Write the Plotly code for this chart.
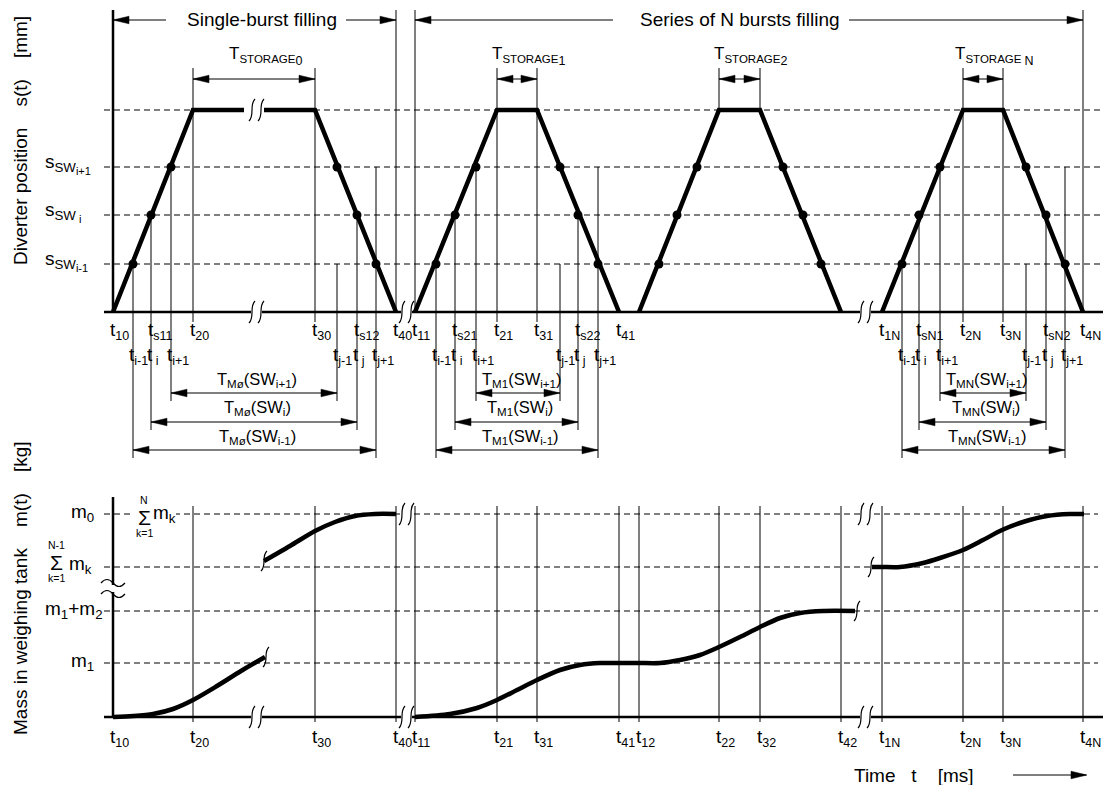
import plotly.graph_objects as go

W, H = 1103, 785
FONT = "Liberation Sans, Arial, sans-serif"

# ---------------- data (schematic time instants & levels) ----------------
burst_ids = ["0", "1", "2", "N"]
t_start = [113, 415, 639, 882]        # t1x
t_rise_end = [193, 497, 719, 963]     # t2x
t_fall_start = [315, 537, 760, 1003]  # t3x
t_end = [396, 619, 841, 1083]         # t4x
t_up_sw = [[133, 151, 171], [436, 455, 476], [659, 677, 697], [902, 919, 940]]
t_dn_sw = [[337, 357, 376], [560, 578, 598], [783, 803, 821], [1026, 1046, 1065]]
s_sw_levels = [264, 215, 167]   # s_SW(i-1), s_SW(i), s_SW(i+1)
s_zero = 312
s_top = 110
SS = "<span style='font-size:11px'>"
s_level_labels = [f"s<sub>SW<sub>{SS}i-1</span></sub></sub>",
                  f"s<sub>SW<sub>{SS} i</span></sub></sub>",
                  f"s<sub>SW<sub>{SS}i+1</span></sub></sub>"]

m_zero = 717
m_levels = [663, 611, 567, 514]   # m1, m1+m2, sum_{k=1}^{N-1} m_k, m0

# mass curves
mass0a_t = [113, 133, 153, 173, 193, 217, 241, 265]
mass0a_m = [717, 716, 714, 709, 700, 686, 671, 657]
mass0b_t = [264, 290, 315, 335, 355, 375, 396]
mass0b_m = [561, 546, 531, 522, 516, 514, 514]
mass12_t = [415, 450, 477, 497, 517, 537, 560, 580, 600, 619, 639, 660, 680, 700, 719, 740, 760, 780, 800, 823, 855]
mass12_m = [717, 714, 708, 700, 690, 680, 670, 665, 663, 663, 663, 663, 660, 655, 647, 637, 627, 618, 613, 611, 611]
massN_t = [872, 882, 900, 923, 940, 963, 983, 1002, 1023, 1047, 1070, 1084]
massN_m = [567, 567, 567, 563, 558, 550, 540, 530, 522, 516, 514, 514]

lower_t_pos = [113, 193, 315, 396, 415, 497, 537, 619, 639, 719, 760, 841, 882, 963, 1003, 1083]
lower_t_sub = ["10", "20", "30", "40", "11", "21", "31", "41", "12", "22", "32", "42", "1N", "2N", "3N", "4N"]

row1_sub = [["10", "s11", "20", "30", "s12", "40"],
            ["11", "s21", "21", "31", "s22", "41"],
            None,
            ["1N", "sN1", "2N", "3N", "sN2", "4N"]]
row2_sub = ["i-1", " i", "i+1", "j-1", " j", "j+1"]
tm_names = ["Mø", "M1", None, "MN"]
storage_sub = ["0", "1", "2", "N"]

# ---------------- helpers ----------------
shapes = []
annots = []


def line(x0, y0, x1, y1, w=1.0, color="black", dash=None, layer="below"):
    d = dict(type="line", x0=x0, y0=y0, x1=x1, y1=y1, xref="x", yref="y",
             line=dict(color=color, width=w, dash=dash), layer=layer)
    shapes.append(d)


def head(x, y, direction, L=16, hw=3.8):
    s = -1 if direction == "left" else 1
    p = f"M {x},{y} L {x - s * L},{y - hw} L {x - s * L},{y + hw} Z"
    shapes.append(dict(type="path", path=p, xref="x", yref="y",
                       fillcolor="black", line=dict(color="black", width=0.5), layer="above"))


def dim(x0, x1, y):
    line(x0, y, x1, y, 1, layer="above")
    head(x0, y, "left")
    head(x1, y, "right")


def brk(cx, cy, h=11):
    p = (f"M {cx + 3},{cy - h} C {cx - 3},{cy - h * 0.45} {cx + 3},{cy + h * 0.45} {cx - 3},{cy + h}")
    shapes.append(dict(type="path", path=p, xref="x", yref="y",
                       line=dict(color="black", width=1.2), layer="above"))


def mask(x0, x1, y0, y1):
    shapes.append(dict(type="rect", x0=x0, x1=x1, y0=y0, y1=y1, xref="x", yref="y",
                       fillcolor="white", line=dict(width=0), layer="above"))


def brk_pair(cx, cy, h=11, gap=9):
    mask(cx - 1, cx + gap + 1, cy - h * 0.6, cy + h * 0.6)
    brk(cx, cy, h)
    brk(cx + gap, cy, h)


def txt(x, y, text, size=19, xanchor="center", yanchor="middle", angle=0, bg=None):
    a = dict(x=x, y=y, xref="x", yref="y", text=text, showarrow=False,
             font=dict(family=FONT, size=size, color="black"),
             xanchor=xanchor, yanchor=yanchor, textangle=angle, borderpad=0)
    if bg:
        a["bgcolor"] = bg
    annots.append(a)


def tlab(s):
    return f"t<sub><span style='font-size:12.5px'>{s}</span></sub>"


fig = go.Figure()

# ---------------- top panel ----------------
for yv in s_sw_levels + [s_top]:
    line(104, yv, 1100, yv, 1, dash="6px,4px")
line(104, s_zero, 1103, s_zero, 2.5)
line(113, 10, 113, s_zero, 2.5)
line(396, 10, 396, s_zero, 1)
line(415, 10, 415, s_zero, 1)
line(1083, 10, 1083, s_zero, 1)

dim_y = [450, 422, 393]   # for i-1, i, i+1
dim_lab_y = [437, 408, 380]

for b in range(4):
    xs = [t_start[b], t_rise_end[b], t_fall_start[b], t_end[b]]
    ys = [s_zero, s_top, s_top, s_zero]
    fig.add_trace(go.Scatter(x=xs, y=ys, mode="lines", line=dict(color="black", width=4.5),
                             hoverinfo="skip", showlegend=False))
    dx = t_up_sw[b] + t_dn_sw[b]
    dy = s_sw_levels + s_sw_levels[::-1]
    fig.add_trace(go.Scatter(x=dx, y=dy, mode="markers", marker=dict(color="black", size=9),
                             hoverinfo="skip", showlegend=False))
    # storage time
    bottom = 110 if b == 2 else 322
    line(t_rise_end[b], 68, t_rise_end[b], bottom, 1)
    line(t_fall_start[b], 68, t_fall_start[b], bottom, 1)
    dim(t_rise_end[b], t_fall_start[b], 79)
    mid = (t_rise_end[b] + t_fall_start[b]) / 2
    sp = "\u00a0" if burst_ids[b] == "N" else ""
    txt(mid + 11, 56, f"T<sub><span style='font-size:11.5px'>STORAGE{sp}</span>"
                      f"<sub><span style='font-size:12.5px'>{storage_sub[b]}</span></sub></sub>", size=17)
    if b == 2:
        continue
    # switching lines
    for k in range(3):
        line(t_up_sw[b][k], s_sw_levels[k], t_up_sw[b][k], dim_y[k] + 8, 1)
        line(t_dn_sw[b][2 - k], s_sw_levels[2 - k], t_dn_sw[b][2 - k], dim_y[k] + 8, 1)
    for k in range(3):
        x0 = t_up_sw[b][k]
        x1 = t_dn_sw[b][2 - k]
        dim(x0, x1, dim_y[k])
        sw = ["i-1", "i", "i+1"][k]
        txt((x0 + x1) / 2 + 3, dim_lab_y[k], f"T<sub>{tm_names[b]}</sub>(SW<sub>{sw}</sub>)", size=16.5)
    # tick labels
    pos1 = [t_start[b], t_up_sw[b][1], t_rise_end[b], t_fall_start[b], t_dn_sw[b][1], t_end[b]]
    for p, s in zip(pos1, row1_sub[b]):
        txt(p - 4, 331, tlab(s), xanchor="left")
    pos2 = t_up_sw[b] + t_dn_sw[b]
    for p, s in zip(pos2, row2_sub):
        txt(p - 5, 356, tlab(s), xanchor="left")

# break marks top
mask(244, 264, s_top - 4, s_top + 4)
brk_pair(252, s_top)
brk_pair(252, s_zero)
brk_pair(402, s_zero)
brk_pair(861, s_zero)

# top arrows
line(113, 20, 166, 20, 1, layer="above")
head(113, 20, "left")
line(346, 20, 396, 20, 1, layer="above")
head(396, 20, "right")
txt(262, 19, "Single-burst filling")
line(415, 20, 613, 20, 1, layer="above")
head(415, 20, "left")
line(849, 20, 1083, 20, 1, layer="above")
head(1083, 20, "right")
txt(740, 19, "Series of N bursts filling")

# left labels top
for yv, lab in zip(s_sw_levels, s_level_labels):
    txt(44, yv - 3, lab, xanchor="left")
txt(20, 141, "Diverter position\u00a0\u00a0\u00a0 s(t)\u00a0\u00a0\u00a0 [mm]", angle=-90)

# ---------------- lower panel ----------------
for yv in m_levels:
    line(104, yv, 1098, yv, 1, dash="6px,4px")
line(104, m_zero, 1103, m_zero, 2.5)
line(113, 497, 113, m_zero, 2.5)
for p in lower_t_pos[1:]:
    line(p, 506, p, 722, 1)

for xs, ys in [(mass0a_t, mass0a_m), (mass0b_t, mass0b_m), (mass12_t, mass12_m), (massN_t, massN_m)]:
    fig.add_trace(go.Scatter(x=xs, y=ys, mode="lines", line=dict(color="black", width=4.5, shape="spline", smoothing=0.8),
                             hoverinfo="skip", showlegend=False))

for p, s in zip(lower_t_pos, lower_t_sub):
    txt(p - 4, 738, tlab(s), xanchor="left")

# break marks lower
brk_pair(252, m_zero)
brk_pair(402, m_zero)
brk_pair(402, m_levels[3])
brk_pair(861, m_zero)
brk_pair(861, m_levels[3])
brk(266, 657, 10)
brk(264, 561, 10)
brk(857, 611, 10)
brk(871, 567, 10)
# axis break
mask(100, 126, 585, 592)
for yy in [583, 594]:
    shapes.append(dict(type="path", path=f"M 101,{yy} Q 107,{yy - 7} 113,{yy} T 125,{yy}", xref="x", yref="y",
                       line=dict(color="black", width=1.2), layer="above"))

# lower labels
txt(70, 513, "m<sub>0</sub>", xanchor="left")
txt(44, 610, "m<sub>1</sub>+m<sub>2</sub>", xanchor="left")
txt(70, 662, "m<sub>1</sub>", xanchor="left")
# sum N-1
txt(56, 545, "N-1", size=10.5)
txt(56, 562, "Σ", size=21)
txt(56, 578, "k=1", size=10.5)
txt(68, 565, "m<sub>k</sub>", xanchor="left")
# sum N (inside)
mask(131, 176, 505, 523)
txt(144, 500, "N", size=10.5)
txt(144, 517, "Σ", size=21)
txt(144, 533, "k=1", size=10.5)
txt(152, 514, "m<sub>k</sub>", xanchor="left")

txt(20, 588, "Mass in weighing tank\u00a0\u00a0\u00a0 m(t)\u00a0\u00a0\u00a0 [kg]", angle=-90)

# time axis label
txt(853, 775, "Time\u00a0\u00a0 t\u00a0\u00a0\u00a0 [ms]", xanchor="left")
line(1013, 775, 1086, 775, 1, layer="above")
head(1087, 775, "right")

fig.update_layout(
    width=W, height=H, margin=dict(l=0, r=0, t=0, b=0),
    paper_bgcolor="white", plot_bgcolor="white",
    xaxis=dict(range=[0, W], visible=False, fixedrange=True),
    yaxis=dict(range=[H, 0], visible=False, fixedrange=True),
    shapes=shapes, annotations=annots, showlegend=False,
)
fig.write_html("out.html", config={"displayModeBar": False},
               post_script="document.body.style.margin='0';")
